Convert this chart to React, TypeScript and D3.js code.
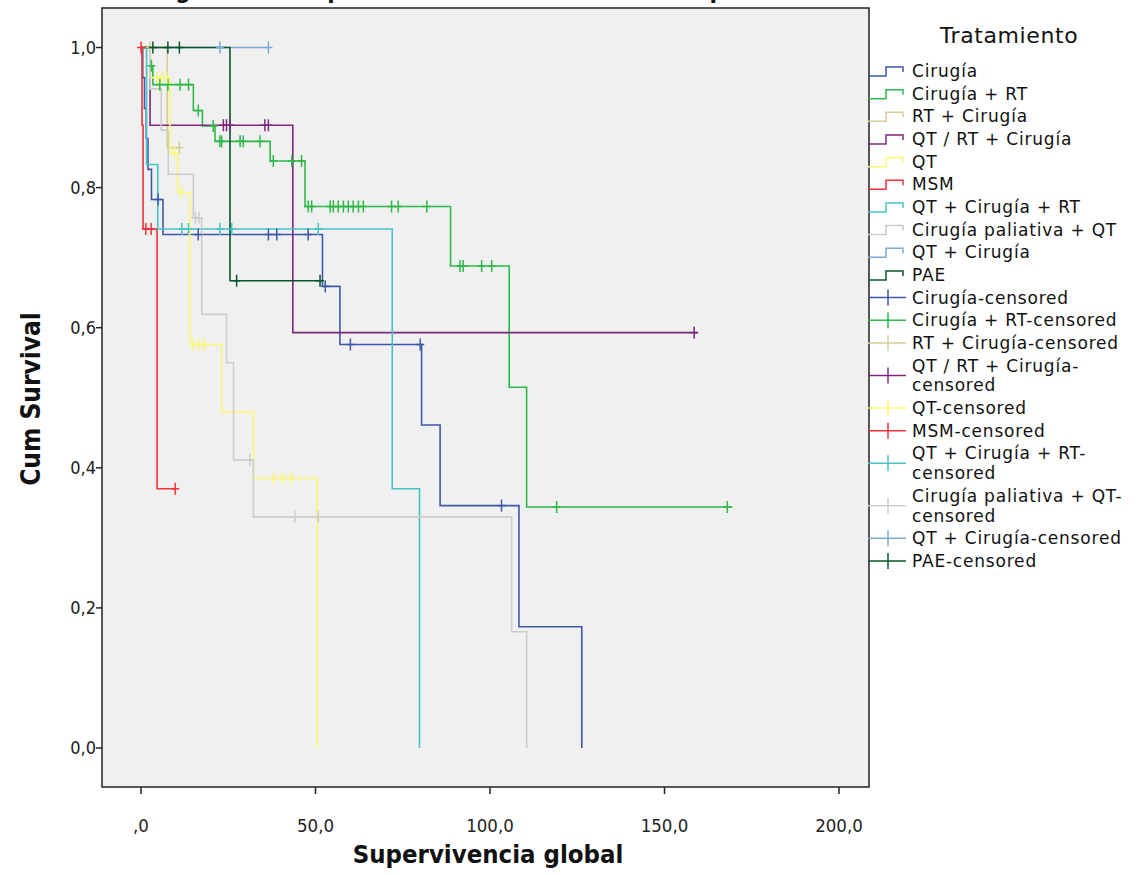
import React from "react";
import * as d3 from "d3";

// groups in legend order (SPSS default palette)
const groups = [
  "Cirugía",
  "Cirugía + RT",
  "RT + Cirugía",
  "QT / RT + Cirugía",
  "QT",
  "MSM",
  "QT + Cirugía + RT",
  "Cirugía paliativa + QT",
  "QT + Cirugía",
  "PAE",
];
const groupColors = [
  "#3E58AC",
  "#2EB848",
  "#D3CE97",
  "#7C287D",
  "#FBF873",
  "#EF3338",
  "#48C2C5",
  "#CCCCCC",
  "#7AAAD5",
  "#0A562C",
];

// event times (months) and survival after each event
const eventTimes: number[][] = [
  [0.5, 1, 1.5, 2, 3, 6.3, 52, 57, 80.4, 85.7, 108.3, 126.3],
  [2.6, 3.4, 15, 17.6, 21.2, 37, 47, 88.7, 105.5, 110.5],
  [7.5],
  [2.6, 43.5],
  [2.6, 8.3, 10.5, 14, 23.1, 32.2, 50.5],
  [0.3, 0.6, 4.6],
  [1.6, 4.8, 72, 79.8],
  [2.6, 5.8, 7.8, 15, 17.4, 24.5, 26.5, 32.2, 106.2, 110.5],
  [],
  [25.5],
];
const survival: number[][] = [
  [0.957, 0.913, 0.87, 0.826, 0.783, 0.733, 0.659, 0.576, 0.461, 0.346, 0.173, 0],
  [0.974, 0.947, 0.91, 0.888, 0.866, 0.838, 0.773, 0.688, 0.515, 0.344],
  [0.857],
  [0.889, 0.593],
  [0.957, 0.85, 0.793, 0.576, 0.48, 0.385, 0],
  [0.889, 0.741, 0.37],
  [0.833, 0.741, 0.37, 0],
  [0.941, 0.882, 0.819, 0.757, 0.619, 0.55, 0.411, 0.33, 0.166, 0],
  [],
  [0.667],
];
const censorTimes: number[][] = [
  [4.9, 16.4, 36.5, 38.9, 47.9, 52.8, 60, 80, 103.3],
  [3.0, 5.4, 7.7, 11.2, 13.6, 16.4, 20.7, 22.6, 23.1, 28.4, 29.3, 34.1, 37.9, 43.2, 46,
    47.9, 48.9, 54.2, 55.1, 56.5, 58, 59.4, 60.8, 62.3, 63.7, 71.8, 73.7, 81.9,
    91.4, 92.3, 97.6, 100.5, 119.1, 168],
  [2.5, 11],
  [23.6, 24.5, 25.5, 35.5, 36.5, 158.5],
  [4.5, 6, 7.4, 9.6, 11.6, 15, 16.5, 18, 38, 40.5, 43],
  [0, 1.4, 2.9, 9.8],
  [11.7, 13.6, 22.6, 26, 50.8],
  [15.6, 16.6, 31.2, 44.1, 50.8],
  [22.6, 36.5],
  [3.4, 7.7, 11, 27.4, 51.3],
];
const lastTimes = [126.3, 169.5, 11, 159.5, 50.5, 9.8, 79.8, 110.5, 36.5, 52];

const xTicks = [0, 50, 100, 150, 200];
const xTickLabels = [",0", "50,0", "100,0", "150,0", "200,0"];
const yTicks = [0, 0.2, 0.4, 0.6, 0.8, 1];
const yTickLabels = ["0,0", "0,2", "0,4", "0,6", "0,8", "1,0"];

const censorLabels: string[][] = [
  ["Cirugía-censored"],
  ["Cirugía + RT-censored"],
  ["RT + Cirugía-censored"],
  ["QT / RT + Cirugía-", "censored"],
  ["QT-censored"],
  ["MSM-censored"],
  ["QT + Cirugía + RT-", "censored"],
  ["Cirugía paliativa + QT-", "censored"],
  ["QT + Cirugía-censored"],
  ["PAE-censored"],
];

const COND = "'DejaVu Sans Condensed', 'DejaVu Sans', sans-serif";
const SANS = "'DejaVu Sans', sans-serif";

const frame = { left: 102, right: 869, top: 8, bottom: 787 };

const x = d3.scaleLinear().domain([0, 200]).range([141, 839]);
const y = d3.scaleLinear().domain([0, 1]).range([748, 47.5]);

const survAt = (g: number, t: number) => {
  let s = 1;
  eventTimes[g].forEach((et, i) => {
    if (et <= t) s = survival[g][i];
  });
  return s;
};

const stepLine = d3
  .line<[number, number]>()
  .x((d) => x(d[0]))
  .y((d) => y(d[1]))
  .curve(d3.curveStepAfter);

const curvePoints = (g: number): [number, number][] => {
  const pts: [number, number][] = [[0, 1]];
  eventTimes[g].forEach((t, i) => pts.push([t, survival[g][i]]));
  pts.push([lastTimes[g], survAt(g, lastTimes[g])]);
  return pts;
};

const LEG_FONT = 17;
const WRAP = 19.8;
const STEP = 22.66;

const Legend = () => {
  const rows: JSX.Element[] = [];
  let cy = 71;
  const txt = (s: string, ty: number, k: string | number) => (
    <text
      key={k}
      x={912}
      y={ty + 6}
      fontSize={LEG_FONT}
      letterSpacing={0.8}
      fontFamily={SANS}
      fill="#111"
    >
      {s}
    </text>
  );
  groups.forEach((name, g) => {
    rows.push(
      <g key={"l" + g}>
        <path
          d={`M868,${cy + 5}H886V${cy - 4}H903V${cy + 1}`}
          fill="none"
          stroke={groupColors[g]}
          strokeWidth={1.5}
        />
        {txt(name, cy, 0)}
      </g>
    );
    cy += STEP;
  });
  censorLabels.forEach((lines, g) => {
    const mid = cy + ((lines.length - 1) * WRAP) / 2;
    rows.push(
      <g key={"c" + g}>
        <line x1={868} x2={906} y1={mid} y2={mid} stroke={groupColors[g]} strokeWidth={1.5} />
        <line x1={888} x2={888} y1={mid - 8} y2={mid + 8} stroke={groupColors[g]} strokeWidth={1.5} />
        {lines.map((ln, i) => txt(ln, cy + i * WRAP, i))}
      </g>
    );
    cy += STEP + (lines.length - 1) * WRAP;
  });
  return (
    <g>
      <text
        x={1009}
        y={43}
        textAnchor="middle"
        fontSize={22}
        letterSpacing={0.6}
        fontFamily={SANS}
        fill="#111"
      >
        Tratamiento
      </text>
      {rows}
    </g>
  );
};

const App = () => {
  return (
    <div style={{ position: "absolute", left: 0, top: 0 }}>
      <svg width={1143} height={875} style={{ display: "block", background: "#fff" }}>
        {/* title, mostly cut off at the top edge as in the source */}
        <text
          x={135}
          y={-2.5}
          fontSize={23}
          fontWeight="bold"
          fontFamily={COND}
          fontStretch="condensed"
          textLength={810}
          lengthAdjust="spacingAndGlyphs"
          fill="#111"
        >
          Diagrama de supervivencia de los diferentes tipos de tratamiento
        </text>
        <rect
          x={frame.left}
          y={frame.top}
          width={frame.right - frame.left}
          height={frame.bottom - frame.top}
          fill="#F0F0F0"
          stroke="#222"
          strokeWidth={1.5}
        />
        {/* y axis */}
        {yTicks.map((t, i) => (
          <g key={"y" + i}>
            <line x1={frame.left - 6} x2={frame.left} y1={y(t)} y2={y(t)} stroke="#222" strokeWidth={1.5} />
            <text
              x={frame.left - 6}
              y={y(t) + 6}
              textAnchor="end"
              fontSize={18}
              fontFamily={COND}
              fontStretch="condensed"
              fill="#222"
            >
              {yTickLabels[i]}
            </text>
          </g>
        ))}
        {/* x axis */}
        {xTicks.map((t, i) => (
          <g key={"x" + i}>
            <line x1={x(t)} x2={x(t)} y1={frame.bottom} y2={frame.bottom + 7} stroke="#222" strokeWidth={1.5} />
            <text
              x={x(t)}
              y={832}
              textAnchor="middle"
              fontSize={18.5}
              fontFamily={COND}
              fontStretch="condensed"
              fill="#222"
            >
              {xTickLabels[i]}
            </text>
          </g>
        ))}
        <text
          x={488}
          y={863}
          textAnchor="middle"
          fontSize={25.5}
          fontWeight="bold"
          fontFamily={COND}
          fontStretch="condensed"
          fill="#111"
        >
          Supervivencia global
        </text>
        <text
          transform="translate(40,399) rotate(-90)"
          textAnchor="middle"
          fontSize={26}
          fontWeight="bold"
          fontFamily={COND}
          fontStretch="condensed"
          fill="#111"
        >
          Cum Survival
        </text>
        {/* survival curves */}
        {groups.map((_, g) => (
          <path
            key={"p" + g}
            d={stepLine(curvePoints(g)) || ""}
            fill="none"
            stroke={groupColors[g]}
            strokeWidth={1.6}
          />
        ))}
        {/* censored marks */}
        {groups.map((_, g) => (
          <g key={"m" + g} stroke={groupColors[g]} strokeWidth={1.5}>
            {censorTimes[g].map((t, i) => {
              const cx = x(t);
              const cy = y(survAt(g, t));
              return (
                <g key={i}>
                  <line x1={cx} x2={cx} y1={cy - 6} y2={cy + 6} />
                  <line x1={cx - 4} x2={cx + 4} y1={cy} y2={cy} />
                </g>
              );
            })}
          </g>
        ))}
        <Legend />
      </svg>
    </div>
  );
};

export default App;
